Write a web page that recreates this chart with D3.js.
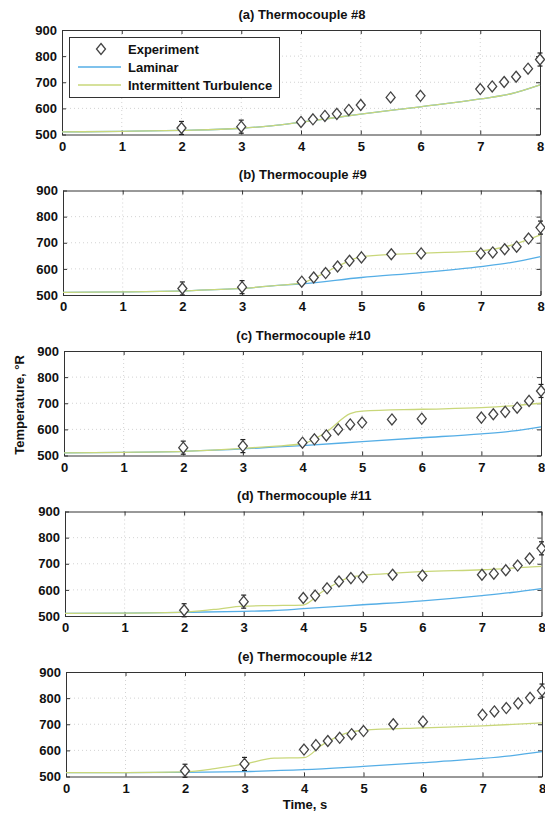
<!DOCTYPE html>
<html><head><meta charset="utf-8">
<script src="https://cdn.jsdelivr.net/npm/d3@7"></script>
<style>
body{margin:0;background:#fff;}
text{font-family:"Liberation Sans",Arial,sans-serif;fill:#111;}
</style></head>
<body><svg id="c" width="545" height="816"></svg>
<script>
// ---- data ----
const titles = ["(a) Thermocouple #8","(b) Thermocouple #9","(c) Thermocouple #10","(d) Thermocouple #11","(e) Thermocouple #12"];
const expTimes = [2,3,4,4.2,4.4,4.6,4.8,5,5.5,6,7,7.2,7.4,7.6,7.8,8];
const exp8  = [525,530,548,558,571,579,594,613,642,648,674,684,701,721,752,787];
const exp9  = [525,530,551,567,584,609,631,644,656,659,659,663,675,685,716,758];
const exp10 = [530,536,549,562,577,600,619,626,638,641,645,658,667,683,709,747];
const exp11 = [522,555,569,578,606,632,645,649,658,655,658,662,675,693,720,759];
const exp12 = [522,548,603,620,636,648,662,674,700,710,736,749,762,780,801,829];
const errTimes = [2,3,8];
const errHalf = 25;

const lam8  = [[0,510],[1,512],[2,516],[3,524],[3.5,533],[4,547],[5,578],[6,606],[7,636],[7.5,655],[8,690]];
const turb8 = [[0,510],[1,512],[2,516],[3,524],[3.5,533],[4,547],[5,578],[6,606],[7,636],[7.5,655],[8,690]];
const lam9  = [[0,510],[1,512],[2,516],[3,525],[3.5,535],[4,543],[5,567],[6,586],[7,609],[7.5,624],[8,647]];
const turb9 = [[0,510],[1,512],[2,516],[3,525],[3.5,535],[4,546],[4.3,575],[4.6,610],[4.9,640],[5,647],[6,660],[7,669],[7.5,690],[8,730]];
const lam10  = [[0,510],[1,512],[2,516],[3,525],[3.5,532],[4,538],[5,553],[6,568],[7,583],[7.5,593],[8,610]];
const turb10 = [[0,510],[1,512],[2,516],[3,527],[3.5,535],[4,545],[4.4,590],[4.8,660],[5,670],[6,677],[7,683],[7.5,690],[8,700]];
const lam11  = [[0,510],[1,511],[2,514],[3,518],[3.5,521],[4,528],[5,543],[6,558],[7,578],[7.5,590],[8,605]];
const turb11 = [[0,510],[1,511],[2,515],[2.5,525],[3,538],[3.5,540],[4,542],[4.3,590],[4.6,630],[4.8,650],[5,655],[6,670],[7,677],[8,690]];
const lam12  = [[0,515],[1,515],[2,516],[3,519],[4,526],[5,539],[6,553],[7,569],[7.5,580],[8,595]];
const turb12 = [[0,515],[1,515],[2,518],[2.5,530],[3,548],[3.5,570],[4,572],[4.3,620],[4.7,665],[5,677],[6,686],[7,694],[8,705]];

const xTicks = [0,1,2,3,4,5,6,7,8];
const yTicks = [500,600,700,800,900];
const legendLabels = ["Experiment","Laminar","Intermittent Turbulence"];

const expSets = [exp8,exp9,exp10,exp11,exp12];
const lamSets = [lam8,lam9,lam10,lam11,lam12];
const turbSets = [turb8,turb9,turb10,turb11,turb12];

// ---- drawing ----
const svg = d3.select("#c");
const blue = "#55aee6", yg = "#c9d77a";
const diamond = (cx,cy)=>`M${cx},${cy-5.5}L${cx+4.5},${cy}L${cx},${cy+5.5}L${cx-4.5},${cy}Z`;

titles.forEach((title,i)=>{
  const left = 62 + i, right = 540 + i*0.5;
  const top = 30 + i*160.5, bottom = top + 104.5;
  const x = d3.scaleLinear().domain([0,8]).range([left,right]);
  const y = d3.scaleLinear().domain([500,900]).range([bottom,top]);
  const g = svg.append("g");

  // grid
  g.selectAll(".gx").data(xTicks.slice(1,-1)).enter().append("line")
    .attr("x1",d=>x(d)).attr("x2",d=>x(d)).attr("y1",top).attr("y2",bottom)
    .attr("stroke","#c8c8c8").attr("stroke-width",0.8).attr("stroke-dasharray","1,3");
  g.selectAll(".gy").data(yTicks.slice(1,-1)).enter().append("line")
    .attr("x1",left).attr("x2",right).attr("y1",d=>y(d)).attr("y2",d=>y(d))
    .attr("stroke","#c8c8c8").attr("stroke-width",0.8).attr("stroke-dasharray","1,3");

  // axes (MATLAB style, inward ticks on all sides)
  const ax = (gen,tr)=>g.append("g").attr("transform",tr).call(gen)
    .call(s=>s.select(".domain").attr("stroke","#333").attr("stroke-width",1))
    .call(s=>s.selectAll(".tick line").attr("stroke","#333"))
    .call(s=>s.selectAll("text").style("font-size","13px").style("font-weight","bold").attr("fill","#111"));
  ax(d3.axisBottom(x).tickValues(xTicks).tickFormat(d3.format("d")).tickSizeInner(-4).tickSizeOuter(0).tickPadding(7),`translate(0,${bottom})`);
  ax(d3.axisLeft(y).tickValues(yTicks).tickFormat(d3.format("d")).tickSizeInner(-4).tickSizeOuter(0).tickPadding(5),`translate(${left},0)`);
  ax(d3.axisTop(x).tickValues(xTicks).tickFormat("").tickSizeInner(-4).tickSizeOuter(0),`translate(0,${top})`);
  ax(d3.axisRight(y).tickValues(yTicks).tickFormat("").tickSizeInner(-4).tickSizeOuter(0),`translate(${right},0)`);

  // title
  g.append("text").attr("x",(left+right)/2+1).attr("y",top-11.5).attr("text-anchor","middle")
    .style("font-size","13px").style("font-weight","bold").text(title);

  // lines
  const line = d3.line().x(d=>x(d[0])).y(d=>y(d[1])).curve(d3.curveMonotoneX);
  g.append("path").datum(lamSets[i]).attr("d",line).attr("fill","none").attr("stroke",blue).attr("stroke-width",1.3);
  g.append("path").datum(turbSets[i]).attr("d",line).attr("fill","none").attr("stroke",yg).attr("stroke-width",1.3);

  // error bars
  const ev = expSets[i];
  errTimes.forEach(t=>{
    const v = ev[expTimes.indexOf(t)];
    g.append("line").attr("x1",x(t)).attr("x2",x(t)).attr("y1",y(v-errHalf)).attr("y2",y(v+errHalf))
      .attr("stroke","#222").attr("stroke-width",1.3);
    [v-errHalf,v+errHalf].forEach(e=>g.append("line").attr("x1",x(t)-2.5).attr("x2",x(t)+2.5)
      .attr("y1",y(e)).attr("y2",y(e)).attr("stroke","#222").attr("stroke-width",1.2));
  });

  // markers
  g.selectAll(".m").data(expTimes).enter().append("path")
    .attr("d",(t,j)=>diamond(x(t),y(ev[j])))
    .attr("fill","#fff").attr("stroke","#444").attr("stroke-width",1.3);

  // legend (panel a only)
  if(i===0){
    const lg = g.append("g");
    lg.append("rect").attr("x",69.5).attr("y",37.5).attr("width",210).attr("height",60)
      .attr("fill","#fff").attr("stroke","#333").attr("stroke-width",1);
    const rows = [49,67,85];
    lg.append("path").attr("d",diamond(101,rows[0])).attr("fill","#fff").attr("stroke","#444").attr("stroke-width",1.3);
    lg.append("line").attr("x1",78).attr("x2",121).attr("y1",rows[1]).attr("y2",rows[1]).attr("stroke",blue).attr("stroke-width",1.3);
    lg.append("line").attr("x1",78).attr("x2",121).attr("y1",rows[2]).attr("y2",rows[2]).attr("stroke",yg).attr("stroke-width",1.3);
    legendLabels.forEach((l,k)=>lg.append("text").attr("x",128).attr("y",rows[k]+4.5)
      .style("font-size","13px").style("font-weight","bold").text(l));
  }
});

// axis labels
svg.append("text").attr("transform","translate(24,405) rotate(-90)").attr("text-anchor","middle")
  .style("font-size","13px").style("font-weight","bold").text("Temperature, °R");
svg.append("text").attr("x",305).attr("y",809).attr("text-anchor","middle")
  .style("font-size","13px").style("font-weight","bold").text("Time, s");
</script></body></html>
